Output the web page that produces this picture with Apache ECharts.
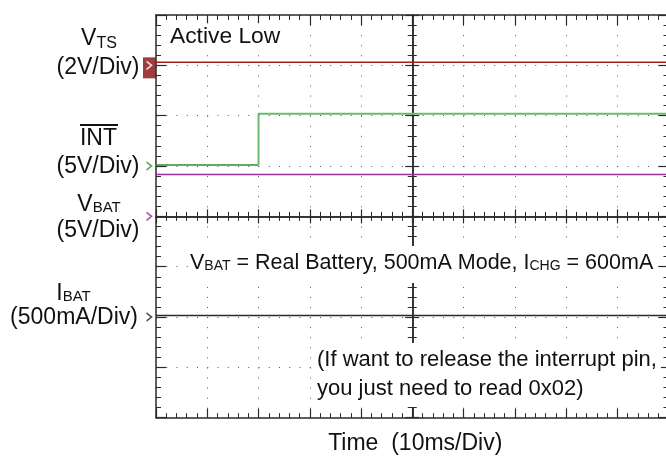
<!DOCTYPE html>
<html>
<head>
<meta charset="utf-8">
<script src="https://cdn.jsdelivr.net/npm/echarts@6/dist/echarts.min.js"></script>
<style>
  html, body { margin: 0; padding: 0; background: #fff; }
  #chart { width: 666px; height: 458px; }
</style>
</head>
<body>
<div id="chart"></div>
<script>
// scope screen in divisions: x = 10ms/div (centre = 0), y = per channel div (centre = 0)
const xRange = [-5, 5];
const yRange = [-4, 4];

// traces
const vtsTime = [-5, 5];
const vtsValue = [3.06, 3.06];
const intLowTime = [-5, -3];
const intLowValue = [1.02, 1.02];
const intHighTime = [-3, -3, 5];
const intHighValue = [1.02, 2.04, 2.04];
const vbatTime = [-5, 5];
const vbatValue = [0.83, 0.83];
const ibatTime = [-5, 5];
const ibatValue = [-1.97, -1.97];

// channel ground markers on the left edge: VTS, INT, VBAT, IBAT
const markerLevel = [3, 1, 0, -2];
const markerColor = ['#ffffff', '#2f8f2f', '#9b309b', '#222222'];

const FONT = '"Liberation Sans", Arial, sans-serif';
const AXIS = '#2a2a2a';
const TEXT = '#111';

function pairs(xs, ys) {
  return xs.map((x, i) => [x, ys[i]]);
}

// frame and centre-cross axes all share this look
function scopeAxis(range, position, onZero, inside, major, minor) {
  return {
    type: 'value',
    min: range[0],
    max: range[1],
    interval: 1,
    position: position,
    axisLabel: { show: false },
    axisLine: { show: true, onZero: onZero, onZeroAxisIndex: 0, lineStyle: { color: AXIS, width: 1.5 } },
    axisTick: { show: true, inside: inside, length: major, lineStyle: { color: AXIS, width: 1.2 } },
    minorTick: { show: true, splitNumber: 5, length: minor, lineStyle: { color: AXIS, width: 1 } },
    splitLine: { show: false }
  };
}

function trace(xs, ys, color, width) {
  return {
    type: 'line',
    data: pairs(xs, ys),
    showSymbol: false,
    symbol: 'none',
    silent: true,
    z: 3,
    lineStyle: { color: color, width: width },
    emphasis: { disabled: true }
  };
}

const bottomAxis = scopeAxis(xRange, 'bottom', false, true, 9, 4.5);
bottomAxis.splitLine = { show: true, lineStyle: { color: '#555', width: 1, type: [1, 9.07] } };
bottomAxis.name = 'Time  (10ms/Div)';
bottomAxis.nameLocation = 'middle';
bottomAxis.nameGap = 14;
bottomAxis.nameTextStyle = { fontSize: 23, fontFamily: FONT, color: TEXT, padding: [0, 0, 0, 6] };

const leftAxis = scopeAxis(yRange, 'left', false, true, 10, 5);
leftAxis.splitLine = { show: true, lineStyle: { color: '#555', width: 1, type: [1, 9.25] } };

// rich styles for channel labels; bottom padding puts subscripts on the main baseline
const labelRich = {
  m: { fontSize: 23, fontFamily: FONT, fill: TEXT, lineHeight: 26 },
  s: { fontSize: 15, fontFamily: FONT, fill: TEXT, lineHeight: 10, verticalAlign: 'bottom', padding: [0, 0, 2.7, 0] },
  t: { fontSize: 16, fontFamily: FONT, fill: TEXT, lineHeight: 10, verticalAlign: 'bottom', padding: [0, 0, 0.3, 0] }
};
const noteRich = {
  m: { fontSize: 21.5, fontFamily: FONT, fill: TEXT, lineHeight: 24 },
  s: { fontSize: 14, fontFamily: FONT, fill: TEXT, lineHeight: 10, verticalAlign: 'bottom', padding: [0, 0, 2, 0] }
};

function label(x, y, text) {
  return {
    type: 'text', x: x, y: y, z: 10, silent: true,
    style: { text: text, rich: labelRich, align: 'center', verticalAlign: 'middle', fill: TEXT, font: '23px ' + FONT }
  };
}

const option = {
  animation: false,
  backgroundColor: '#fff',
  grid: { left: 156, right: -2.5, top: 15, bottom: 40.3, outerBoundsMode: 'none' },
  xAxis: [
    bottomAxis,
    scopeAxis(xRange, 'top', false, true, 10, 5),
    scopeAxis(xRange, 'bottom', true, true, 7, 4.5),
    scopeAxis(xRange, 'bottom', true, false, 7, 4.5)
  ],
  yAxis: [
    leftAxis,
    scopeAxis(yRange, 'right', false, true, 10, 5),
    scopeAxis(yRange, 'left', true, true, 7, 4.5),
    scopeAxis(yRange, 'left', true, false, 7, 4.5)
  ],
  series: [
    trace(vtsTime, vtsValue, '#a51d1d', 1.5),
    trace(vbatTime, vbatValue, '#9b309b', 1.4),
    trace(ibatTime, ibatValue, '#2b2b2b', 1.4),
    trace(intLowTime, intLowValue, '#2f8f2f', 1.5),
    trace(intHighTime, intHighValue, '#6bbb6b', 2),
    {
      // VTS marker box
      type: 'scatter',
      data: [[xRange[0], markerLevel[0]]],
      symbol: 'rect',
      symbolSize: [13, 21],
      symbolOffset: [-6.5, 2.5],
      itemStyle: { color: '#850c0c' },
      clip: false,
      silent: true,
      z: 6,
      emphasis: { disabled: true }
    },
    {
      type: 'scatter',
      data: markerLevel.map((v, i) => ({ value: [xRange[0], v], itemStyle: { borderColor: markerColor[i] } })),
      symbol: 'path://M0,0L5,4L0,8',
      symbolSize: [5, 8],
      symbolOffset: [-7, 0],
      itemStyle: { color: 'rgba(0,0,0,0)', borderWidth: 1.5 },
      clip: false,
      silent: true,
      z: 7,
      emphasis: { disabled: true }
    }
  ],
  graphic: [
    label(99, 38.4, '{m|V}{t|TS}'),
    label(98, 68, '{m|(2V/Div)}'),
    label(98.5, 138.5, '{m|INT}'),
    { type: 'line', z: 10, silent: true, shape: { x1: 80, y1: 125, x2: 118, y2: 125 }, style: { stroke: TEXT, lineWidth: 1.8 } },
    label(98, 167, '{m|(5V/Div)}'),
    label(99, 205, '{m|V}{s|BAT}'),
    label(98, 231, '{m|(5V/Div)}'),
    label(73.5, 294, '{m|I}{s|BAT}'),
    label(74, 318, '{m|(500mA/Div)}'),
    {
      type: 'text', x: 168, y: 36.7, z: 10, silent: true,
      style: { text: 'Active Low', font: '22.8px ' + FONT, fill: TEXT, align: 'left', verticalAlign: 'middle', backgroundColor: '#fff', padding: [2, 3, 2, 2] }
    },
    {
      type: 'text', x: 188, y: 246, z: 10, silent: true,
      style: {
        text: '{m|V}{s|BAT}{m| = Real Battery, 500mA Mode, I}{s|CHG}{m| = 600mA}',
        rich: noteRich, fill: TEXT, font: '21.5px ' + FONT,
        align: 'left', verticalAlign: 'top', backgroundColor: '#fff', padding: [5, 4, 8, 2]
      }
    },
    {
      type: 'text', x: 314, y: 343, z: 10, silent: true,
      style: {
        text: '(If want to release the interrupt pin,\nyou just need to read 0x02)',
        font: '22px ' + FONT, lineHeight: 29, fill: TEXT,
        align: 'left', verticalAlign: 'top', backgroundColor: '#fff', padding: [2, 4, 4, 3]
      }
    }
  ]
};

const chart = echarts.init(document.getElementById('chart'));
chart.setOption(option);
</script>
</body>
</html>
